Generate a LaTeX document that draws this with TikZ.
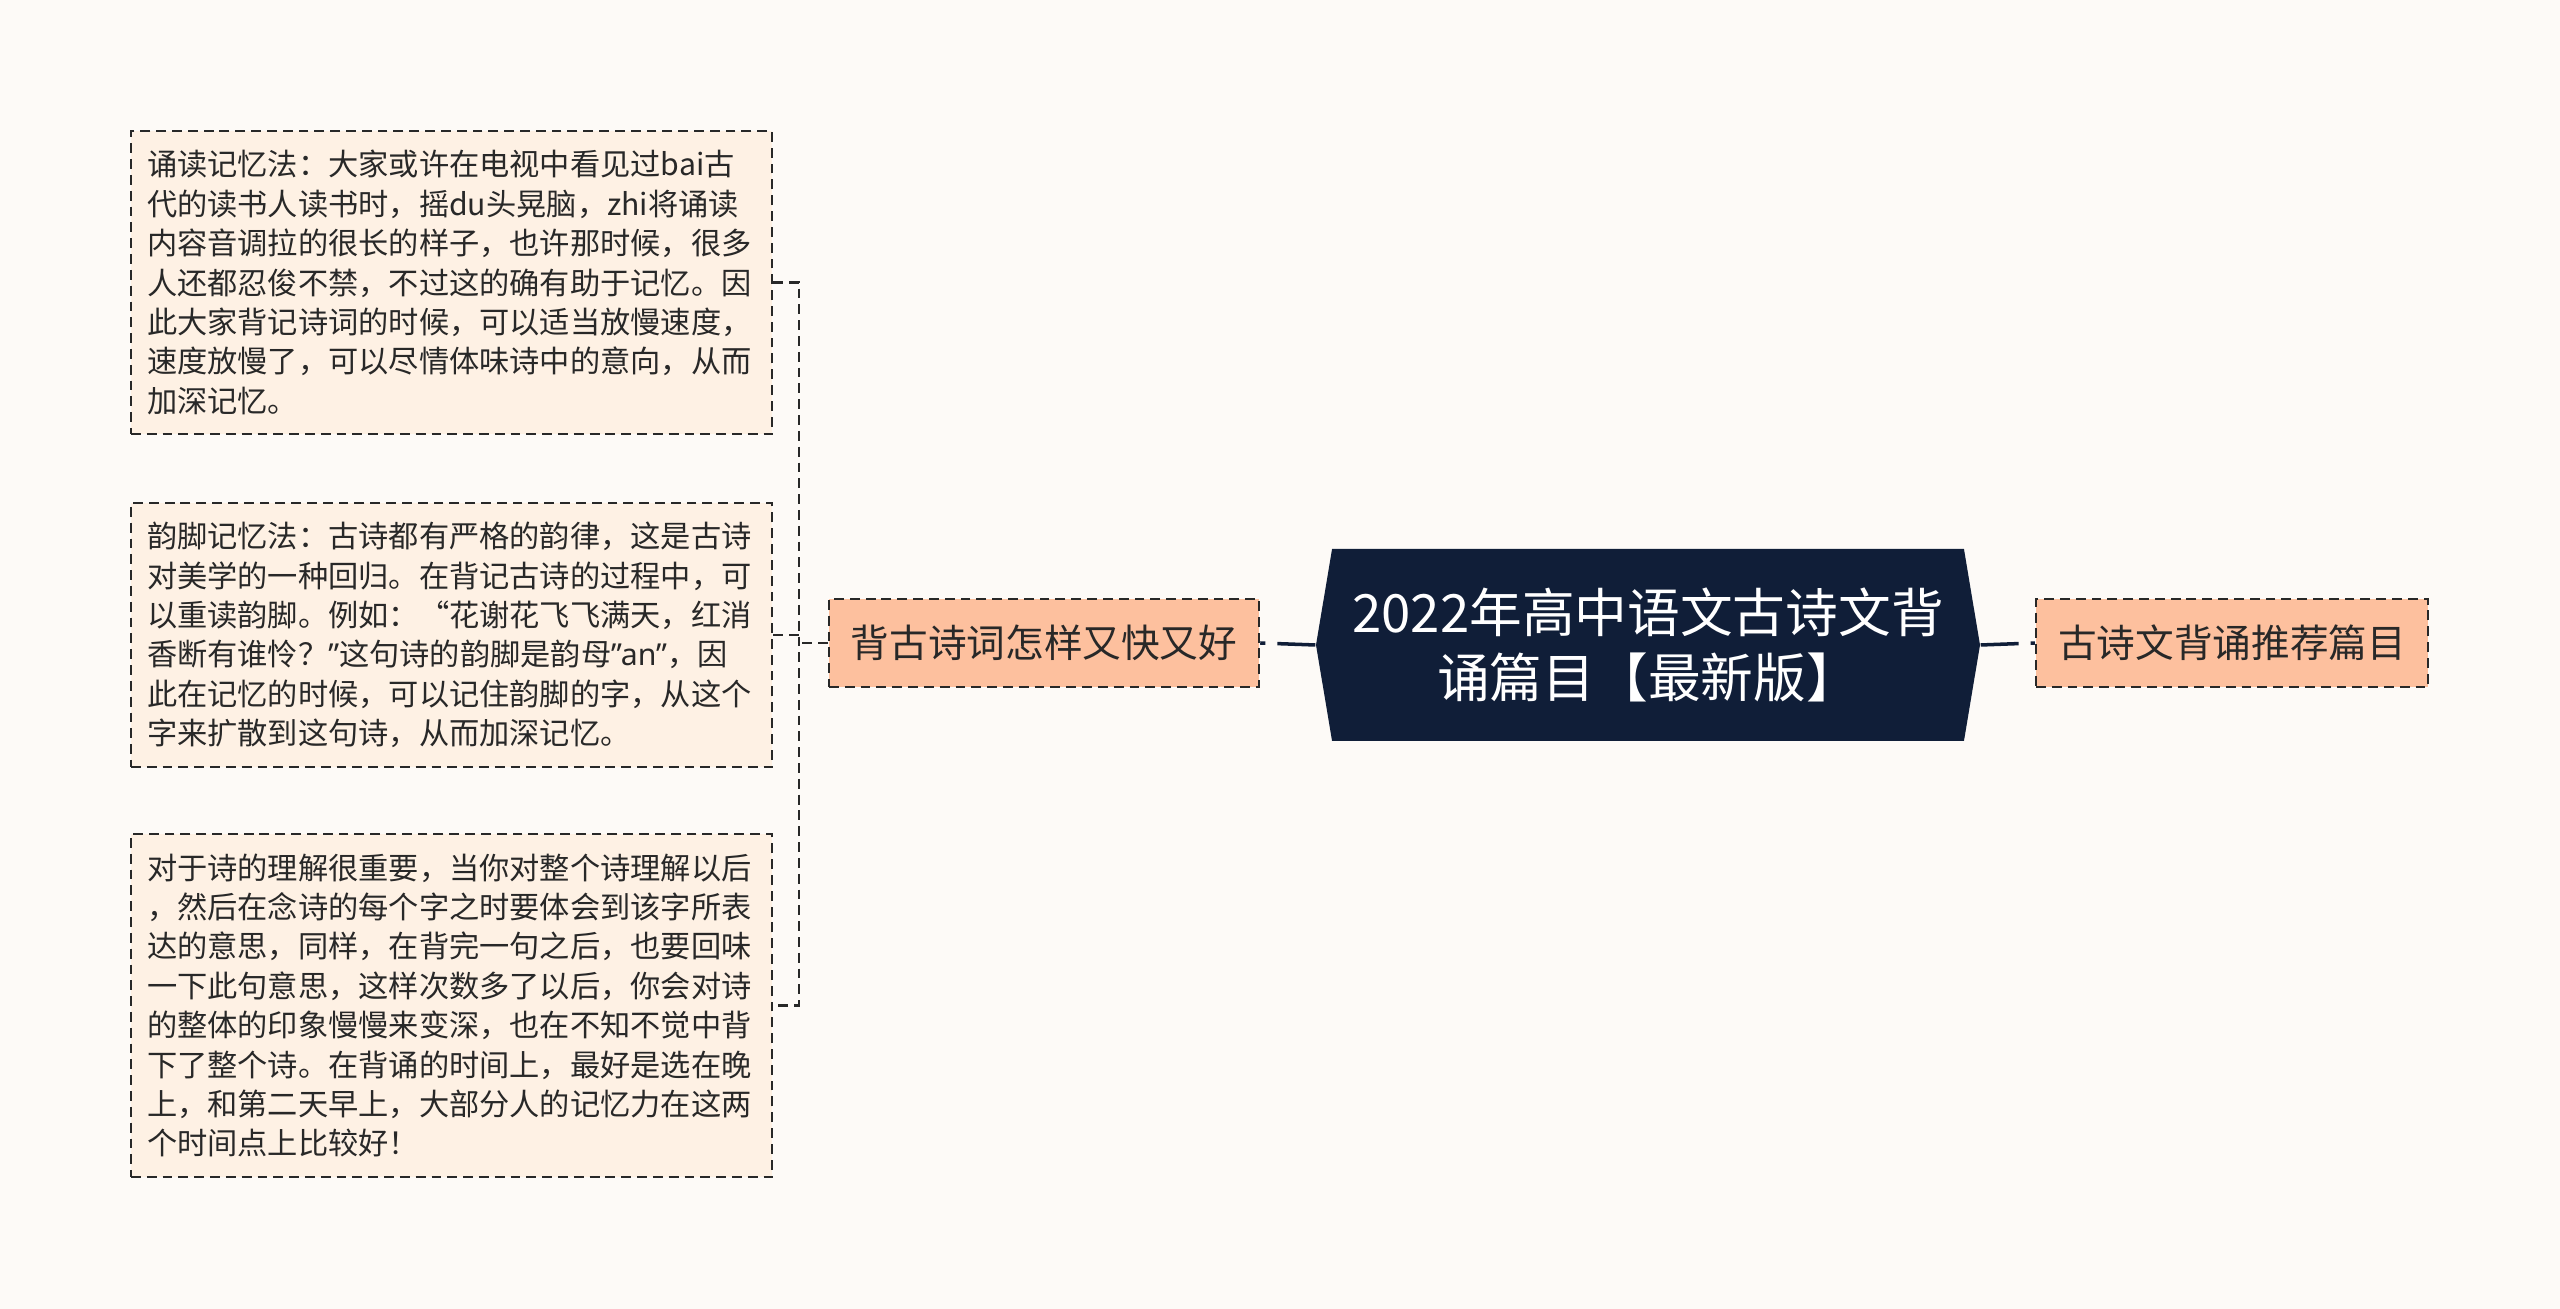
\documentclass[tikz,border=0pt]{standalone}
\usepackage{fontspec}
\setmainfont{Noto Sans CJK SC}
\newfontfamily\latinfont{Noto Sans}
\usetikzlibrary{shapes.symbols}
\definecolor{bgcol}{RGB}{253,250,247}
\definecolor{notecol}{RGB}{254,241,228}
\definecolor{peach}{RGB}{253,192,158}
\definecolor{navy}{RGB}{16,30,56}
\definecolor{ink}{RGB}{40,40,40}
\begin{document}
\begin{tikzpicture}[
	note/.style={draw=ink, fill=notecol, dash pattern=on 2.8pt off 1.7pt, line width=0.7pt, text=ink, align=left, text width=6.09cm, inner xsep=0.16cm, font=\fontsize{8.6}{11.2}\selectfont},
	topic/.style={draw=ink, fill=peach, dash pattern=on 2.8pt off 1.7pt, line width=0.7pt, text=ink, minimum height=0.88cm, font=\fontsize{11}{13}\selectfont},
	branch/.style={draw=ink, dash pattern=on 2.8pt off 1.7pt, line width=0.7pt},
	trunk/.style={draw=navy, dash pattern=on 10.8pt off 3.4pt, line width=1pt}]
		
		\useasboundingbox[fill=bgcol] (0,0) rectangle (25.6,-13.09);
		
		\node[note, minimum height=3.03cm] (memo1) at (4.515,-2.825) {诵读记忆法：大家或许在电视中看见过bai古\\代的读书人读书时，摇du头晃脑，zhi将诵读\\内容音调拉的很长的样子，也许那时候，很多\\人还都忍俊不禁，不过这的确有助于记忆。因\\此大家背记诗词的时候，可以适当放慢速度，\\速度放慢了，可以尽情体味诗中的意向，从而\\加深记忆。};
		\node[note, minimum height=2.64cm] (memo2) at (4.515,-6.35) {韵脚记忆法：古诗都有严格的韵律，这是古诗\\对美学的一种回归。在背记古诗的过程中，可\\以重读韵脚。例如：“花谢花飞飞满天，红消\\香断有谁怜？{\latinfont ”}这句诗的韵脚是韵母{\latinfont ”an”}，因\\此在记忆的时候，可以记住韵脚的字，从这个\\字来扩散到这句诗，从而加深记忆。};
		\node[note, minimum height=3.43cm] (memo3) at (4.515,-10.055) {对于诗的理解很重要，当你对整个诗理解以后\\，然后在念诗的每个字之时要体会到该字所表\\达的意思，同样，在背完一句之后，也要回味\\一下此句意思，这样次数多了以后，你会对诗\\的整体的印象慢慢来变深，也在不知不觉中背\\下了整个诗。在背诵的时间上，最好是选在晚\\上，和第二天早上，大部分人的记忆力在这两\\个时间点上比较好！};
		
		\node[topic, minimum width=4.30cm] (howto) at (10.44,-6.43) {背古诗词怎样又快又好};
		\node[shape=signal, signal to=west and east, signal pointer angle=161, fill=navy, text=white, minimum width=6.64cm, minimum height=1.92cm, align=center, font=\fontsize{15}{18.4}\selectfont] (root) at (16.48,-6.45) {2022年高中语文古诗文背\\诵篇目【最新版】};
		\node[topic, minimum width=3.92cm] (works) at (22.32,-6.43) {古诗文背诵推荐篇目};
		
		\draw[trunk] (root.west) -- (howto.east);
		\draw[trunk] (root.east) -- (works.west);
		
		\draw[branch] (howto.west) -- ++(-0.29,0) coordinate (fork);
		\draw[branch] (memo1.east) -| (fork) |- (memo3.east);
		\draw[branch] (memo2.east) -- (memo2.east -| fork);
	\end{tikzpicture}
\end{document}
